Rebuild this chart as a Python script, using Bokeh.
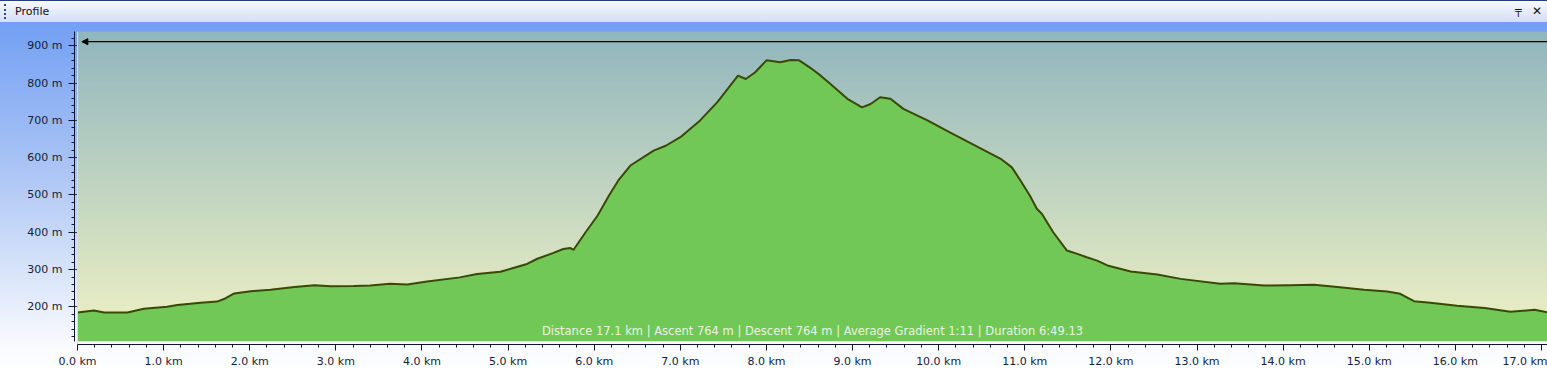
import numpy as np
from bokeh.plotting import figure
from bokeh.layouts import column
from bokeh.models import (Div, SingleIntervalTicker, PrintfTickFormatter, Label,
                          Span, Arrow, NormalHead, ColumnDataSource)
from bokeh.embed import file_html
from bokeh.resources import INLINE

# ---------------- data ----------------
distance_km = [0.0, 0.19, 0.31, 0.58, 0.77, 1.04, 1.16, 1.43, 1.62, 1.70, 1.82, 2.01,
               2.24, 2.52, 2.75, 2.94, 3.21, 3.40, 3.63, 3.83, 4.06, 4.44, 4.64, 4.91,
               5.03, 5.22, 5.34, 5.52, 5.64, 5.72, 5.76, 5.90, 6.04, 6.17, 6.28, 6.42,
               6.69, 6.83, 7.00, 7.23, 7.43, 7.67, 7.76, 7.87, 8.00, 8.16, 8.28, 8.38,
               8.51, 8.63, 8.74, 8.94, 9.11, 9.21, 9.32, 9.44, 9.59, 9.87, 10.13, 10.52,
               10.72, 10.85, 10.95, 11.06, 11.14, 11.20, 11.33, 11.49, 11.61, 11.72, 11.84,
               11.96, 12.23, 12.54, 12.81, 13.27, 13.43, 13.78, 14.08, 14.36, 14.63, 14.94,
               15.21, 15.36, 15.52, 15.71, 16.02, 16.34, 16.64, 16.92, 17.07]
elevation_m = [185, 190, 185, 185, 195, 200, 205, 211, 214, 221, 236, 242,
               246, 253, 258, 255, 256, 257, 262, 260, 268, 279, 288, 294,
               302, 315, 329, 344, 355, 358, 353, 400, 445, 498, 539, 579,
               619, 632, 655, 700, 749, 820, 811, 829, 861, 856, 862, 861,
               841, 820, 798, 758, 735, 744, 762, 758, 731, 700, 668, 621,
               597, 574, 539, 498, 463, 449, 400, 351, 342, 333, 324,
               311, 295, 287, 275, 262, 263, 257, 258, 259, 253, 246,
               241, 235, 215, 211, 203, 197, 187, 192, 185]
marker_level_m = 911
stats_text = ("Distance 17.1 km | Ascent 764 m | Descent 764 m | "
              "Average Gradient 1:11 | Duration 6:49.13")
title_text = "Profile"

# ---------------- layout constants ----------------
X_START, X_END = -0.035, 17.07
Y_START, Y_END = 99, 938.4
FLOOR = 108
FONT = "DejaVu Sans"
TXT = "#16213d"

p = figure(width=1547, height=350, x_range=(X_START, X_END), y_range=(Y_START, Y_END),
           min_border_left=74, min_border_right=0, min_border_top=9, min_border_bottom=28,
           output_backend="svg", toolbar_location=None)
p.border_fill_alpha = 0
p.background_fill_alpha = 0
p.outline_line_color = None

# plot-area gradient
N = 256
t = np.linspace(0, 1, N)[:, None]
bottom = np.array([240, 242, 196])
top = np.array([145, 182, 190])
rgb = (bottom * (1 - t) + top * t).astype(np.uint32)
img = np.zeros((N, 1), dtype=np.uint32)
img[:, 0] = (255 << 24) | (rgb[:, 2] << 16) | (rgb[:, 1] << 8) | rgb[:, 0]
p.image_rgba(image=[img], x=0, y=FLOOR, dw=X_END, dh=Y_END - FLOOR)

src = ColumnDataSource(dict(x=distance_km, y=elevation_m))
p.varea(x="x", y1=FLOOR, y2="y", source=src, fill_color="#72c856")
p.line(x="x", y="y", source=src, line_color="#394806", line_width=2)

p.add_layout(Span(location=0, dimension="height", line_color="#dfe99e", line_width=1))
p.add_layout(Arrow(x_start=X_END, x_end=0.05, y_start=marker_level_m, y_end=marker_level_m,
                   line_color="black", line_width=1.2,
                   end=NormalHead(size=6, fill_color="black", line_color="black")))

p.add_layout(Label(x=X_END / 2, y=134, text=stats_text, text_align="center",
                   text_baseline="middle", text_font=FONT, text_font_size="11.5px",
                   text_color="#e9f3e2"))

# grid
p.xgrid.visible = False
p.ygrid.ticker = SingleIntervalTicker(interval=100, num_minor_ticks=5)
p.ygrid.grid_line_color = "#333f14"
p.ygrid.grid_line_width = 1
p.ygrid.grid_line_alpha = 1

# axes
for ax in (p.xaxis[0], p.yaxis[0]):
    ax.axis_line_color = "#0e1630"
    ax.major_tick_line_color = "#0e1630"
    ax.minor_tick_line_color = "#0e1630"
    ax.major_tick_in = 0
    ax.minor_tick_in = 0
    ax.major_tick_out = 6
    ax.minor_tick_out = 3
    ax.major_label_text_font = FONT
    ax.major_label_text_font_size = "11px"
    ax.major_label_text_color = TXT

p.yaxis[0].ticker = SingleIntervalTicker(interval=100, num_minor_ticks=5)
p.yaxis[0].formatter = PrintfTickFormatter(format="%d m")
p.yaxis[0].bounds = (FLOOR, Y_END)
p.yaxis[0].major_label_standoff = 6
p.xaxis[0].ticker = SingleIntervalTicker(interval=1, num_minor_ticks=5)
p.xaxis[0].formatter = PrintfTickFormatter(format="%.1f km")
p.xaxis[0].bounds = (0, X_END)
p.xaxis[0].major_label_standoff = 4

title_html = f"""
<div style="position:relative;width:1547px;height:22px;box-sizing:border-box;
 border-top:1px solid #22407a;background:linear-gradient(#f7f9fe,#d3dff4);
 font-family:'DejaVu Sans';font-size:11px;color:#111;">
 <span style="position:absolute;left:4px;top:3px;height:15px;border-left:2px dotted #2a4a88;"></span>
 <span style="position:absolute;left:15px;top:3px;">{title_text}</span>
 <span style="position:absolute;left:1515px;top:2px;font-size:11px;font-weight:bold;">&#x2564;</span>
 <span style="position:absolute;left:1532px;top:2px;font-size:12px;font-weight:bold;">&#x2715;</span>
</div>"""
title = Div(text=title_html, width=1547, height=22, margin=(0, 0, 0, 0))

layout = column(title, p, spacing=0,
                styles={"background": "linear-gradient(to bottom, #6a9af4 0%, #aac4f4 45%, #f4f7fd 90%, #ffffff 100%)",
                        "border-bottom": "2px solid #9aaccc"})

open("out.html", "w").write(file_html(layout, INLINE))
